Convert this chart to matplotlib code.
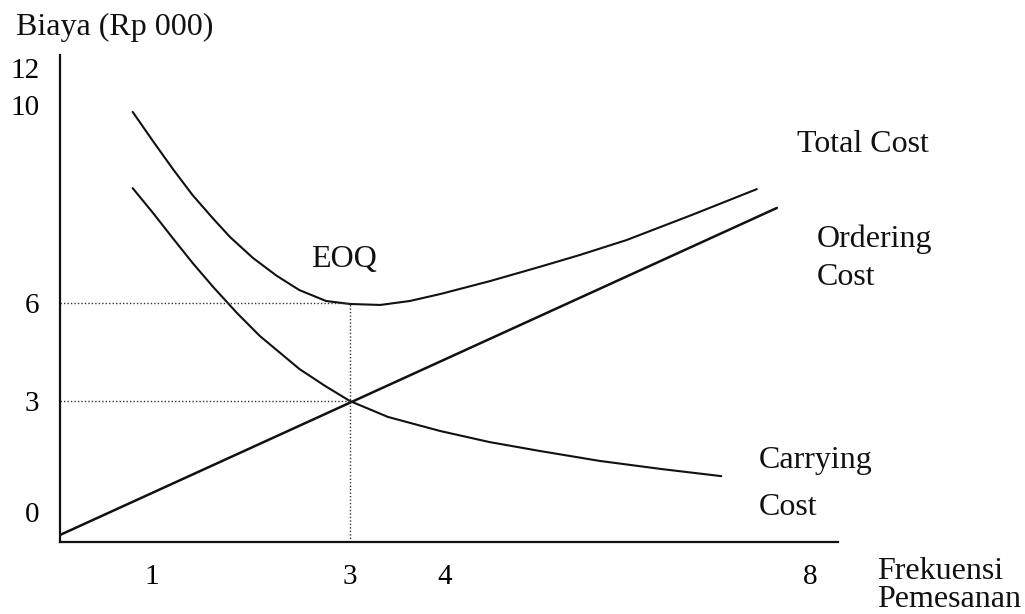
import numpy as np
import matplotlib
matplotlib.use('Agg')
import matplotlib.pyplot as plt

# values (x = order frequency, y = cost in Rp 000)
x_ticks = [1, 3, 4, 8]
y_ticks = [0, 3, 6, 10, 12]

total_x = [0.79, 1.01, 1.21, 1.41, 1.62, 1.79, 2.02, 2.26, 2.49, 2.76, 3.00,
           3.32, 3.63, 3.95, 4.49, 5.04, 5.48, 5.99, 6.71, 7.42]
total_y = [9.86, 9.27, 8.71, 8.18, 7.70, 7.33, 6.91, 6.55, 6.26, 6.04, 5.97,
           5.94, 6.04, 6.18, 6.44, 6.73, 6.97, 7.27, 7.78, 8.30]

carrying_x = [0.79, 1.01, 1.21, 1.41, 1.62, 1.86, 2.09, 2.49, 2.75, 3.00,
              3.40, 3.95, 4.49, 5.04, 5.70, 6.38, 7.03]
carrying_y = [8.32, 7.82, 7.31, 6.81, 6.32, 5.69, 4.99, 3.98, 3.46, 3.00,
              2.57, 2.19, 1.89, 1.65, 1.38, 1.16, 0.97]

ordering_x = [0.0, 7.64]
ordering_y = [-0.62, 7.92]

eoq_x = 3
eoq_cost = 3
min_total = 6


# the book drew its axes unevenly, so the scales are piecewise linear
def piecewise(xk, yk):
    xk = np.asarray(xk, float)
    yk = np.asarray(yk, float)

    def f(v):
        v = np.asarray(v, float)
        out = np.interp(v, xk, yk)
        lo_slope = (yk[1] - yk[0]) / (xk[1] - xk[0])
        hi_slope = (yk[-1] - yk[-2]) / (xk[-1] - xk[-2])
        out = np.where(v < xk[0], yk[0] + (v - xk[0]) * lo_slope, out)
        out = np.where(v > xk[-1], yk[-1] + (v - xk[-1]) * hi_slope, out)
        return out
    return f


x_vals = [0, 1, 3, 4, 8]
x_dist = [0, 92, 290, 385, 750]
y_vals = [0, 3, 6, 10, 12]
y_dist = [30, 141, 239, 437, 474]

W, H = 1025, 614
fig = plt.figure(figsize=(W / 100, H / 100), dpi=100)
ax = fig.add_axes([60 / W, 72 / H, 778 / W, 487 / H])

ax.set_xscale('function', functions=(piecewise(x_vals, x_dist), piecewise(x_dist, x_vals)))
ax.set_yscale('function', functions=(piecewise(y_vals, y_dist), piecewise(y_dist, y_vals)))
ax.set_xlim(0, 8.31)
ax.set_ylim(-0.81, 12.70)

lw = 1.5
ax.plot(total_x, total_y, color='#111111', lw=lw, solid_capstyle='round', solid_joinstyle='round')
ax.plot(carrying_x, carrying_y, color='#111111', lw=lw, solid_capstyle='round', solid_joinstyle='round')
ax.plot(ordering_x, ordering_y, color='#111111', lw=lw + 0.3, solid_capstyle='round')

dot = dict(color='#333333', lw=1.0, linestyle=(0, (1, 1.5)))
ax.plot([0, eoq_x], [min_total, min_total], **dot)
ax.plot([0, eoq_x], [eoq_cost, eoq_cost], **dot)
ax.plot([eoq_x, eoq_x], [-0.81, min_total], **dot)

for s in ['top', 'right']:
    ax.spines[s].set_visible(False)
for s in ['left', 'bottom']:
    ax.spines[s].set_linewidth(1.6)
    ax.spines[s].set_color('#111111')

font = 'Liberation Serif'
fs = 23
tfs = 21
ax.set_xticks(x_ticks)
ax.set_xticklabels([str(t) for t in x_ticks], fontsize=tfs, family=font)
ax.set_yticks(y_ticks)
ax.set_yticklabels([str(t) for t in y_ticks], fontsize=tfs, family=font)
ax.xaxis.set_minor_locator(matplotlib.ticker.NullLocator())
ax.yaxis.set_minor_locator(matplotlib.ticker.NullLocator())
ax.tick_params(axis='x', length=0, pad=16)
ax.tick_params(axis='y', length=0, pad=15)


def label(px, py, s):
    fig.text(px / W, 1 - py / H, s, fontsize=fs, family=font,
             ha='left', va='baseline', color='#111111')


label(16, 35, 'Biaya (Rp 000)')
label(797, 152, 'Total Cost')
label(817, 247, 'Ordering')
label(817, 285, 'Cost')
label(311, 267, 'EOQ')
label(759, 468, 'Carrying')
label(759, 515, 'Cost')
label(877, 579, 'Frekuensi')
label(877, 607, 'Pemesanan')

fig.savefig('out.png', dpi=100)
